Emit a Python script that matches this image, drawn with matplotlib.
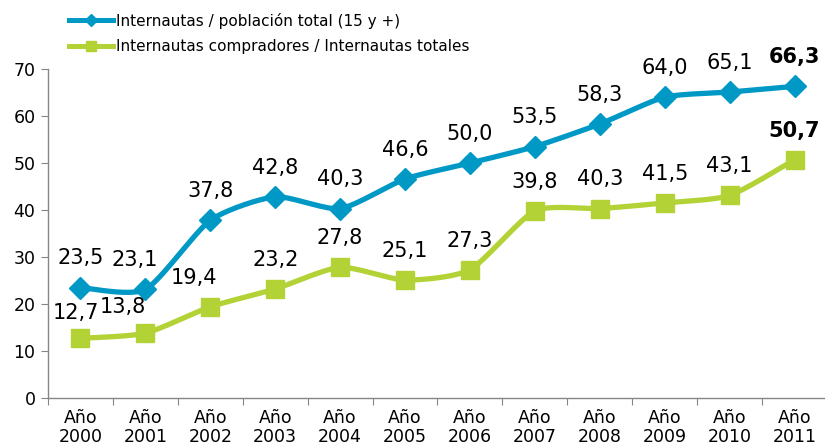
import numpy as np
import matplotlib
matplotlib.use("Agg")
import matplotlib.pyplot as plt
from matplotlib.lines import Line2D

categories = ["Año\n2000", "Año\n2001", "Año\n2002", "Año\n2003", "Año\n2004", "Año\n2005",
              "Año\n2006", "Año\n2007", "Año\n2008", "Año\n2009", "Año\n2010", "Año\n2011"]
poblacion = [23.5, 23.1, 37.8, 42.8, 40.3, 46.6, 50.0, 53.5, 58.3, 64.0, 65.1, 66.3]
compradores = [12.7, 13.8, 19.4, 23.2, 27.8, 25.1, 27.3, 39.8, 40.3, 41.5, 43.1, 50.7]
series_names = ["Internautas / población total (15 y +)",
                "Internautas compradores / Internautas totales"]
yticks = [0, 10, 20, 30, 40, 50, 60, 70]

BLUE = "#0099C6"
GREEN = "#B3D236"


def smooth(xs, ys, n=30, tension=0.5):
    xs = np.asarray(xs, float)
    ys = np.asarray(ys, float)
    px = np.concatenate([[xs[0]], xs, [xs[-1]]])
    py = np.concatenate([[ys[0]], ys, [ys[-1]]])
    outx, outy = [], []
    t = np.linspace(0, 1, n)
    for i in range(1, len(px) - 2):
        p0x, p1x, p2x, p3x = px[i - 1], px[i], px[i + 1], px[i + 2]
        p0y, p1y, p2y, p3y = py[i - 1], py[i], py[i + 1], py[i + 2]
        m1x = tension * (p2x - p0x) / 1.5
        m2x = tension * (p3x - p1x) / 1.5
        m1y = tension * (p2y - p0y) / 1.5
        m2y = tension * (p3y - p1y) / 1.5
        h00 = 2 * t**3 - 3 * t**2 + 1
        h10 = t**3 - 2 * t**2 + t
        h01 = -2 * t**3 + 3 * t**2
        h11 = t**3 - t**2
        outx.append(h00 * p1x + h10 * m1x + h01 * p2x + h11 * m2x)
        outy.append(h00 * p1y + h10 * m1y + h01 * p2y + h11 * m2y)
    return np.concatenate(outx), np.concatenate(outy)


plt.rcParams['font.family'] = ['DejaVu Sans']
fig = plt.figure(figsize=(8.25, 4.48), dpi=100)
ax = fig.add_axes([48 / 825, 50 / 448, 779 / 825, 329 / 448])

x = np.arange(len(categories))

sx, sy = smooth(x, poblacion)
ax.plot(sx, sy, color=BLUE, lw=3.8, solid_capstyle='round', zorder=3, clip_on=False)
ax.plot(x, poblacion, ls='none', marker='D', ms=11, color=BLUE, zorder=4, clip_on=False)

sx, sy = smooth(x, compradores)
ax.plot(sx, sy, color=GREEN, lw=3.8, solid_capstyle='round', zorder=3, clip_on=False)
ax.plot(x, compradores, ls='none', marker='s', ms=13.5, color=GREEN, zorder=4, clip_on=False)

blue_dx = [0, -8, 0, 0, 0, 0, 0, 0, 0, 0, 0, 0]
green_dx = [-3, -16, -12, 0, 0, 0, 0, 0, 0, 0, 0, 0]
green_dy = [18, 19, 21, 21, 21, 21, 21, 21, 21, 21, 21, 21]

def fmt(v):
    return f"{v:.1f}".replace(".", ",")

n = len(categories)
for i, v in enumerate(poblacion):
    ax.annotate(fmt(v), (x[i], v), xytext=(blue_dx[i], 21), textcoords='offset points',
                ha='center', va='center', fontsize=15,
                fontweight='bold' if i == n - 1 else 'normal', color='black', zorder=5)
for i, v in enumerate(compradores):
    ax.annotate(fmt(v), (x[i], v), xytext=(green_dx[i], green_dy[i]), textcoords='offset points',
                ha='center', va='center', fontsize=15,
                fontweight='bold' if i == n - 1 else 'normal', color='black', zorder=5)

ax.set_xlim(-0.5, n - 0.5)
ax.set_ylim(0, 70)
ax.set_yticks(yticks)
ax.tick_params(axis='y', length=5, color='#868686', labelsize=12.5, pad=4)
ax.set_xticks(np.arange(-0.5, n, 1.0))
ax.set_xticklabels([])
ax.tick_params(axis='x', which='major', length=5, color='#868686')
ax.set_xticks(x, minor=True)
ax.set_xticklabels(categories, minor=True, fontsize=12.5, linespacing=1.05)
ax.tick_params(axis='x', which='minor', length=0, pad=8)
for s in ['top', 'right']:
    ax.spines[s].set_visible(False)
for s in ['left', 'bottom']:
    ax.spines[s].set_color('#868686')
    ax.spines[s].set_linewidth(1.0)

handles = [Line2D([], [], color=BLUE, lw=3.6, marker='D', ms=6),
           Line2D([], [], color=GREEN, lw=3.6, marker='s', ms=7)]
fig.legend(handles, series_names, loc='upper left', bbox_to_anchor=(58 / 825, 1 - 2 / 448),
           frameon=False, fontsize=11, handlelength=2.9, handletextpad=0.2,
           labelspacing=0.7, borderpad=0.2)

fig.savefig("out.png", dpi=100)
